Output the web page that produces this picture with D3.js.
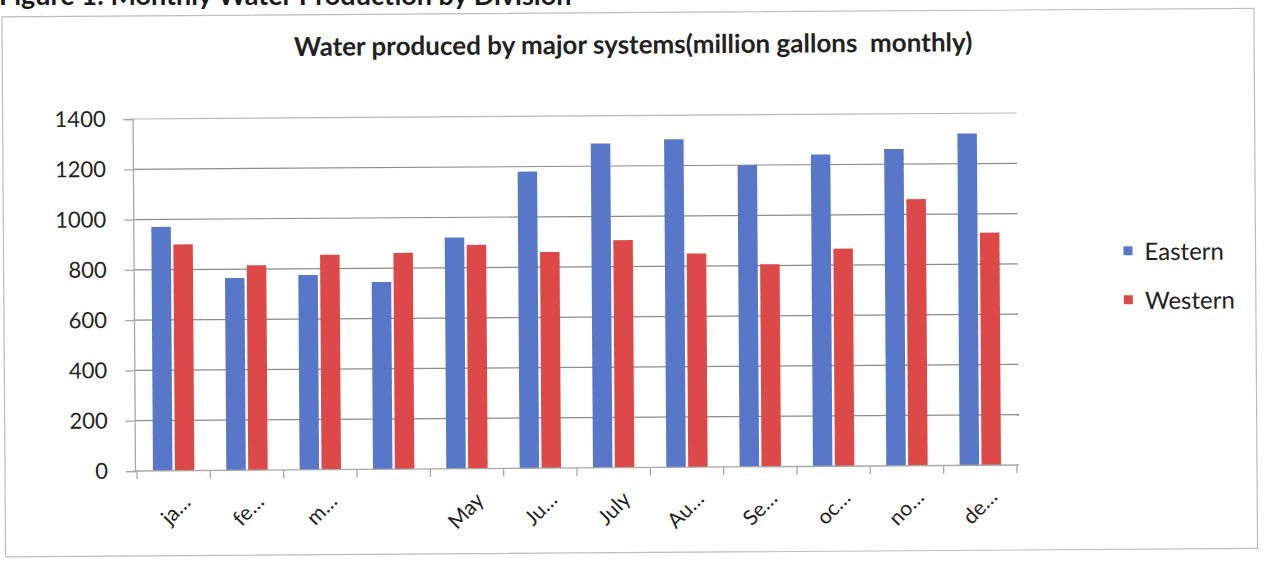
<!DOCTYPE html>
<html>
<head>
<meta charset="utf-8">
<script src="https://cdn.jsdelivr.net/npm/d3@7"></script>
<style>
  body { margin: 0; background: #fff; }
  svg { display: block; font-family: Lato, "Open Sans", sans-serif; }
</style>
</head>
<body>
<div id="chart"></div>
<script>
const months = ["ja…", "fe…", "m…", "", "May", "Ju…", "July", "Au…", "Se…", "oc…", "no…", "de…"];
const series = ["Eastern", "Western"];
const eastern = [970, 765, 775, 745, 920, 1180, 1290, 1305, 1200, 1240, 1260, 1320];
const western = [900, 815, 855, 860, 890, 860, 905, 850, 805, 865, 1060, 925];
const yTicks = [0, 200, 400, 600, 800, 1000, 1200, 1400];
const colors = { Eastern: "#5877c9", Western: "#dd4949" };

const width = 1265, height = 565;
const margin = { top: 119, right: 246, bottom: 94, left: 135 };
const plotW = width - margin.left - margin.right;
const plotH = height - margin.top - margin.bottom;

const data = months.map((m, i) => ({ key: i, label: m, Eastern: eastern[i], Western: western[i] }));

const svg = d3.select("#chart")
  .append("svg")
  .attr("width", width)
  .attr("height", height);

// figure caption, cut off at the top of the scan
svg.append("text")
  .attr("x", -1)
  .attr("y", 5)
  .attr("font-size", 27)
  .attr("font-weight", "bold")
  .attr("fill", "#1a1a1a")
  .text("Figure 1: Monthly Water Production by Division");

// scanned page is slightly tilted
const page = svg.append("g")
  .attr("transform", `rotate(-0.39, ${margin.left}, ${margin.top + plotH})`);

page.append("rect")
  .attr("x", 5)
  .attr("y", 16)
  .attr("width", 1252)
  .attr("height", 540)
  .attr("fill", "none")
  .attr("stroke", "#bdbdbd")
  .attr("stroke-width", 1.2);

page.append("text")
  .attr("x", 636)
  .attr("y", 57)
  .attr("text-anchor", "middle")
  .attr("font-size", 26)
  .attr("font-weight", "bold")
  .attr("fill", "#222")
  .style("white-space", "pre")
  .text("Water produced by major systems(million gallons  monthly)");

const g = page.append("g")
  .attr("transform", `translate(${margin.left}, ${margin.top})`);

const x0 = d3.scaleBand()
  .domain(data.map(d => d.key))
  .range([2, plotW - 2]);

const x1 = d3.scaleBand()
  .domain(series)
  .range([0, x0.bandwidth()])
  .paddingInner(0.11)
  .paddingOuter(0.73);

const y = d3.scaleLinear()
  .domain([0, 1400])
  .range([plotH, 0]);

// gridlines
g.append("g")
  .selectAll("line")
  .data(yTicks.filter(t => t > 0))
  .enter()
  .append("line")
  .attr("x1", 0)
  .attr("x2", plotW)
  .attr("y1", d => y(d))
  .attr("y2", d => y(d))
  .attr("stroke", d => d === 1400 ? "#b8b8b8" : "#8c8c8c")
  .attr("stroke-width", 1.2);

// bars
const groups = g.append("g")
  .selectAll("g")
  .data(data)
  .enter()
  .append("g")
  .attr("transform", d => `translate(${x0(d.key)}, 0)`);

groups.selectAll("rect")
  .data(d => series.map(s => ({ s: s, v: d[s] })))
  .enter()
  .append("rect")
  .attr("x", d => x1(d.s))
  .attr("y", d => y(d.v))
  .attr("width", x1.bandwidth())
  .attr("height", d => plotH - y(d.v))
  .attr("fill", d => colors[d.s]);

// y axis
const yAxis = g.append("g")
  .call(d3.axisLeft(y).tickValues(yTicks).tickFormat(d3.format("d")).tickSize(9).tickPadding(18));
yAxis.select(".domain").attr("stroke", "#a8a8a8").attr("stroke-width", 1.3);
yAxis.selectAll(".tick line").attr("stroke", "#a8a8a8").attr("stroke-width", 1.3);
yAxis.selectAll(".tick text")
  .attr("font-size", 22)
  .attr("fill", "#222")
  .attr("font-family", "Lato, sans-serif");

// x axis
const xAxis = g.append("g")
  .attr("transform", `translate(0, ${plotH})`);
xAxis.append("line")
  .attr("x1", 0)
  .attr("x2", plotW)
  .attr("stroke", "#a8a8a8")
  .attr("stroke-width", 1.3);
xAxis.selectAll("line.tk")
  .data(d3.range(months.length + 1))
  .enter()
  .append("line")
  .attr("class", "tk")
  .attr("x1", i => i < months.length ? x0(i) : x0(i - 1) + x0.bandwidth())
  .attr("x2", i => i < months.length ? x0(i) : x0(i - 1) + x0.bandwidth())
  .attr("y1", 0)
  .attr("y2", 8)
  .attr("stroke", "#a8a8a8")
  .attr("stroke-width", 1.3);
xAxis.selectAll("text")
  .data(data)
  .enter()
  .append("text")
  .attr("transform", d => `translate(${x0(d.key) + x0.bandwidth() / 2 + 18}, 33) rotate(-45)`)
  .attr("text-anchor", "end")
  .attr("font-size", 21)
  .attr("fill", "#222")
  .text(d => d.label);

// legend
const legend = page.append("g")
  .attr("transform", "translate(1125, 253)");
const items = legend.selectAll("g")
  .data(series)
  .enter()
  .append("g")
  .attr("transform", (d, i) => `translate(0, ${i * 49})`);
items.append("rect")
  .attr("width", 9)
  .attr("height", 9)
  .attr("fill", d => colors[d]);
items.append("text")
  .attr("x", 21)
  .attr("y", 14)
  .attr("font-size", 24)
  .attr("fill", "#222")
  .text(d => d);
</script>
</body>
</html>
